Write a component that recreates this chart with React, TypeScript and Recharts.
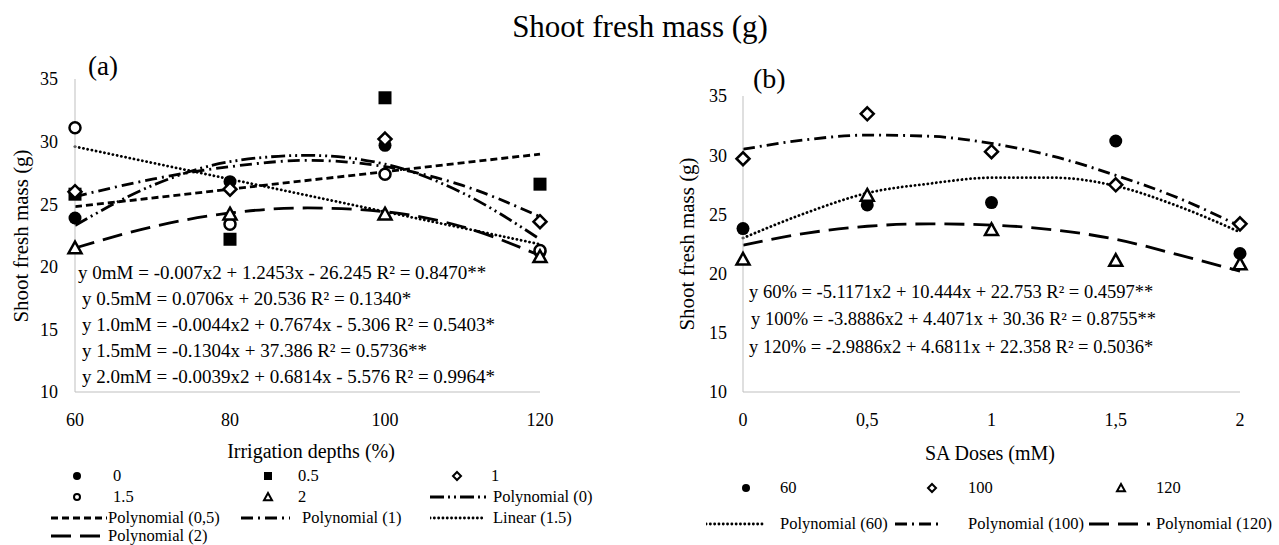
import React from "react";
import {ComposedChart, Line, Scatter, XAxis, YAxis} from "recharts";

const FONT = '"Liberation Serif", "Times New Roman", serif';
const AXIS_GRAY = "#bfbfbf";

// (a) shoot fresh mass vs irrigation depth, one series per SA dose
const depthTicks = [60, 80, 100, 120];
const depthX = [60, 80, 100, 120];
const massDose0 = [23.9, 26.8, 29.7, 21.2];
const massDose05 = [25.8, 22.2, 33.5, 26.6];
const massDose1 = [26.0, 26.2, 30.2, 23.6];
const massDose15 = [31.1, 23.4, 27.4, 21.3];
const massDose2 = [21.5, 24.2, 24.2, 20.8];

// trend lines
const trendDepthX = [60, 70, 80, 90, 100, 110, 120];
const trendDose0 = [23.3, 26.5, 28.4, 28.9, 28.2, 25.9, 22.2];
const trendDose1 = [25.6, 27.0, 28.0, 28.5, 28.0, 26.5, 24.0];
const trendDose2 = [21.5, 23.2, 24.3, 24.7, 24.4, 23.2, 20.9];
const trendLinX = [60, 120];
const trendDose05 = [24.8, 29.0];
const trendDose15 = [29.6, 21.8];

// (b) shoot fresh mass vs SA dose, one series per irrigation depth
const doseTicks = [0, 0.5, 1, 1.5, 2];
const doseX = [0, 0.5, 1, 1.5, 2];
const massDepth60 = [23.8, 25.8, 26.0, 31.2, 21.7];
const massDepth100 = [29.7, 33.5, 30.3, 27.5, 24.2];
const massDepth120 = [21.2, 26.6, 23.7, 21.1, 20.8];

const trendDoseX = [0, 0.25, 0.5, 0.75, 1, 1.25, 1.5, 1.75, 2];
const trendDepth60 = [23.0, 25.1, 26.8, 27.6, 28.1, 28.1, 27.4, 25.7, 23.5];
const trendDepth100 = [30.5, 31.3, 31.7, 31.6, 31.0, 29.9, 28.3, 26.4, 24.0];
const trendDepth120 = [22.4, 23.4, 24.0, 24.2, 24.1, 23.7, 22.9, 21.6, 20.2];

const massTicks = [10, 15, 20, 25, 30, 35];

const equationsA = [
  "y 0mM = -0.007x2 + 1.2453x - 26.245 R² = 0.8470**",
  "y 0.5mM = 0.0706x + 20.536 R² = 0.1340*",
  "y 1.0mM = -0.0044x2 + 0.7674x - 5.306 R² = 0.5403*",
  "y 1.5mM = -0.1304x + 37.386 R² = 0.5736**",
  "y 2.0mM = -0.0039x2 + 0.6814x - 5.576 R² = 0.9964*",
];
const equationsB = [
  "y 60% = -5.1171x2 + 10.444x + 22.753 R² = 0.4597**",
  "y 100% = -3.8886x2 + 4.4071x + 30.36 R² = 0.8755**",
  "y 120% = -2.9886x2 + 4.6811x + 22.358 R² = 0.5036*",
];

const DASH = {
  dashDotDot: "14 4 2 4 2 4",
  shortDash: "7 4",
  dashDot: "12 5 2 5",
  dotted: "0.1 4.2",
  longDash: "20 9",
};

type MarkKind = "dot" | "square" | "diamond" | "ring" | "triangle";

function pts(xs: number[], ys: number[]) {
  return xs.map((x, i) => ({x, y: ys[i]}));
}

function Mark({kind, cx, cy, s}: {kind: MarkKind; cx: number; cy: number; s: number}) {
  const sw = s > 5 ? 2.5 : 2;
  if (kind === "dot") return <circle cx={cx} cy={cy} r={s} fill="#000" />;
  if (kind === "square")
    return <rect x={cx - s} y={cy - s} width={s * 2} height={s * 2} fill="#000" />;
  if (kind === "ring")
    return <circle cx={cx} cy={cy} r={s - 1} fill="#fff" stroke="#000" strokeWidth={sw} />;
  if (kind === "diamond")
    return (
      <polygon
        points={`${cx},${cy - s} ${cx + s},${cy} ${cx},${cy + s} ${cx - s},${cy}`}
        fill="#fff"
        stroke="#000"
        strokeWidth={sw}
      />
    );
  return (
    <polygon
      points={`${cx},${cy - s} ${cx + s},${cy + s * 0.8} ${cx - s},${cy + s * 0.8}`}
      fill="#fff"
      stroke="#000"
      strokeWidth={sw}
      strokeLinejoin="miter"
    />
  );
}

function markShape(kind: MarkKind) {
  return (props: any) => {
    const {cx, cy} = props;
    if (cx == null || cy == null) return <g />;
    return <Mark kind={kind} cx={cx} cy={cy} s={6.5} />;
  };
}

const tickStyle = {fontSize: 18, fill: "#000", fontFamily: FONT};

function trendLine(key: string, data: {x: number; y: number}[], dash: string, type: "monotone" | "linear") {
  return (
    <Line
      key={key}
      data={data}
      dataKey="y"
      type={type}
      stroke="#000"
      strokeWidth={2.8}
      strokeDasharray={dash}
      strokeLinecap={dash === DASH.dotted ? "round" : "butt"}
      dot={false}
      activeDot={false}
      isAnimationActive={false}
    />
  );
}

function Txt({x, y, size, children, anchor}: {x: number; y: number; size: number; children: React.ReactNode; anchor?: "center"}) {
  return (
    <div
      style={{
        position: "absolute",
        left: x,
        top: y - size * 0.6,
        fontSize: size,
        lineHeight: `${size * 1.2}px`,
        fontFamily: FONT,
        whiteSpace: "nowrap",
        color: "#000",
        transform: anchor === "center" ? "translateX(-50%)" : undefined,
      }}>
      {children}
    </div>
  );
}

function VTxt({x, y, size, children}: {x: number; y: number; size: number; children: React.ReactNode}) {
  return (
    <div
      style={{
        position: "absolute",
        left: x,
        top: y,
        transform: "translate(-50%, -50%) rotate(-90deg)",
        fontSize: size,
        fontFamily: FONT,
        whiteSpace: "nowrap",
        color: "#000",
      }}>
      {children}
    </div>
  );
}

function LegendMark({x, y, kind}: {x: number; y: number; kind: MarkKind}) {
  return (
    <svg style={{position: "absolute", left: x - 6, top: y - 6}} width={12} height={12}>
      <Mark kind={kind} cx={6} cy={6} s={4} />
    </svg>
  );
}

function LegendLine({x1, x2, y, dash}: {x1: number; x2: number; y: number; dash: string}) {
  return (
    <svg style={{position: "absolute", left: x1, top: y - 3}} width={x2 - x1} height={6}>
      <line
        x1={0}
        x2={x2 - x1}
        y1={3}
        y2={3}
        stroke="#000"
        strokeWidth={2.8}
        strokeDasharray={dash}
        strokeLinecap={dash === DASH.dotted ? "round" : "butt"}
      />
    </svg>
  );
}

const LEG = 16.5;
const A1 = 476;
const A2 = 497;
const A3 = 518;
const A4 = 536;
const B1 = 488;
const B2 = 524;

export default function App() {
  return (
    <div
      style={{
        position: "absolute",
        left: 0,
        top: 0,
        width: 1279,
        height: 545,
        background: "#fff",
        overflow: "hidden",
        fontFamily: FONT,
      }}>
      <Txt x={640} y={27} size={31} anchor="center">
        Shoot fresh mass (g)
      </Txt>

      {/* (a) */}
      <div style={{position: "absolute", left: 0, top: 0}}>
        <ComposedChart width={640} height={440} margin={{top: 79, right: 100, bottom: 18, left: 30}}>
          <XAxis
            type="number"
            dataKey="x"
            domain={[60, 120]}
            ticks={depthTicks}
            tick={tickStyle}
            tickSize={0}
            tickMargin={21}
            height={30}
            axisLine={{stroke: AXIS_GRAY}}
            tickLine={false}
          />
          <YAxis
            type="number"
            domain={[10, 35]}
            ticks={massTicks}
            tick={tickStyle}
            tickSize={0}
            tickMargin={17}
            width={45}
            axisLine={{stroke: AXIS_GRAY}}
            tickLine={false}
          />
          <Scatter data={pts(depthX, massDose0)} dataKey="y" shape={markShape("dot")} isAnimationActive={false} />
          <Scatter data={pts(depthX, massDose05)} dataKey="y" shape={markShape("square")} isAnimationActive={false} />
          <Scatter data={pts(depthX, massDose1)} dataKey="y" shape={markShape("diamond")} isAnimationActive={false} />
          <Scatter data={pts(depthX, massDose15)} dataKey="y" shape={markShape("ring")} isAnimationActive={false} />
          <Scatter data={pts(depthX, massDose2)} dataKey="y" shape={markShape("triangle")} isAnimationActive={false} />
          {trendLine("t0", pts(trendDepthX, trendDose0), DASH.dashDotDot, "monotone")}
          {trendLine("t05", pts(trendLinX, trendDose05), DASH.shortDash, "linear")}
          {trendLine("t1", pts(trendDepthX, trendDose1), DASH.dashDot, "monotone")}
          {trendLine("t15", pts(trendLinX, trendDose15), DASH.dotted, "linear")}
          {trendLine("t2", pts(trendDepthX, trendDose2), DASH.longDash, "monotone")}
        </ComposedChart>
      </div>

      {/* (b) */}
      <div style={{position: "absolute", left: 640, top: 0}}>
        <ComposedChart width={639} height={440} margin={{top: 96, right: 39, bottom: 18, left: 58}}>
          <XAxis
            type="number"
            dataKey="x"
            domain={[0, 2]}
            ticks={doseTicks}
            tickFormatter={(v: number) => String(v).replace(".", ",")}
            tick={tickStyle}
            tickSize={0}
            tickMargin={21}
            height={30}
            axisLine={{stroke: AXIS_GRAY}}
            tickLine={false}
          />
          <YAxis
            type="number"
            domain={[10, 35]}
            ticks={massTicks}
            tick={tickStyle}
            tickSize={0}
            tickMargin={16}
            width={45}
            axisLine={{stroke: AXIS_GRAY}}
            tickLine={false}
          />
          <Scatter data={pts(doseX, massDepth60)} dataKey="y" shape={markShape("dot")} isAnimationActive={false} />
          <Scatter data={pts(doseX, massDepth100)} dataKey="y" shape={markShape("diamond")} isAnimationActive={false} />
          <Scatter data={pts(doseX, massDepth120)} dataKey="y" shape={markShape("triangle")} isAnimationActive={false} />
          {trendLine("b60", pts(trendDoseX, trendDepth60), DASH.dotted, "monotone")}
          {trendLine("b100", pts(trendDoseX, trendDepth100), DASH.dashDot, "monotone")}
          {trendLine("b120", pts(trendDoseX, trendDepth120), DASH.longDash, "monotone")}
        </ComposedChart>
      </div>

      {/* panel letters and axis titles */}
      <Txt x={88} y={66} size={27}>(a)</Txt>
      <Txt x={753} y={79} size={28}>(b)</Txt>
      <VTxt x={21} y={236} size={21}>Shoot fresh mass (g)</VTxt>
      <VTxt x={687} y={244} size={21}>Shoot fresh mass (g)</VTxt>
      <Txt x={311} y={451} size={20} anchor="center">Irrigation depths (%)</Txt>
      <Txt x={990} y={453} size={20} anchor="center">SA Doses (mM)</Txt>

      {/* regression equations */}
      {equationsA.map((eq, i) => (
        <Txt key={eq} x={i === 0 ? 78 : 82} y={273 + i * 26} size={19}>
          {eq}
        </Txt>
      ))}
      {equationsB.map((eq, i) => (
        <Txt key={eq} x={i === 1 ? 751 : 749} y={292 + i * 27.5} size={18.5}>
          {eq}
        </Txt>
      ))}

      {/* legend (a) */}
      <LegendMark x={77} y={A1} kind="dot" />
      <Txt x={113} y={A1} size={LEG}>0</Txt>
      <LegendMark x={268} y={A1} kind="square" />
      <Txt x={298} y={A1} size={LEG}>0.5</Txt>
      <LegendMark x={457} y={A1} kind="diamond" />
      <Txt x={491} y={A1} size={LEG}>1</Txt>
      <LegendMark x={77} y={A2} kind="ring" />
      <Txt x={113} y={A2} size={LEG}>1.5</Txt>
      <LegendMark x={268} y={A2} kind="triangle" />
      <Txt x={298} y={A2} size={LEG}>2</Txt>
      <LegendLine x1={430} x2={488} y={A2} dash={DASH.dashDotDot} />
      <Txt x={493} y={A2} size={LEG}>Polynomial (0)</Txt>
      <LegendLine x1={51} x2={107} y={A3} dash={DASH.shortDash} />
      <Txt x={108} y={A3} size={LEG}>Polynomial (0,5)</Txt>
      <LegendLine x1={241} x2={290} y={A3} dash={DASH.dashDot} />
      <Txt x={302} y={A3} size={LEG}>Polynomial (1)</Txt>
      <LegendLine x1={430} x2={485} y={A3} dash={DASH.dotted} />
      <Txt x={493} y={A3} size={LEG}>Linear (1.5)</Txt>
      <LegendLine x1={51} x2={107} y={A4} dash={DASH.longDash} />
      <Txt x={108} y={A4} size={LEG}>Polynomial (2)</Txt>

      {/* legend (b) */}
      <LegendMark x={746} y={B1} kind="dot" />
      <Txt x={780} y={B1} size={LEG}>60</Txt>
      <LegendMark x={932} y={B1} kind="diamond" />
      <Txt x={968} y={B1} size={LEG}>100</Txt>
      <LegendMark x={1121} y={B1} kind="triangle" />
      <Txt x={1156} y={B1} size={LEG}>120</Txt>
      <LegendLine x1={706} x2={766} y={B2} dash={DASH.dotted} />
      <Txt x={780} y={B2} size={LEG}>Polynomial (60)</Txt>
      <LegendLine x1={895} x2={941} y={B2} dash={DASH.dashDot} />
      <Txt x={968} y={B2} size={LEG}>Polynomial (100)</Txt>
      <LegendLine x1={1089} x2={1150} y={B2} dash={DASH.longDash} />
      <Txt x={1156} y={B2} size={LEG}>Polynomial (120)</Txt>
    </div>
  );
}
